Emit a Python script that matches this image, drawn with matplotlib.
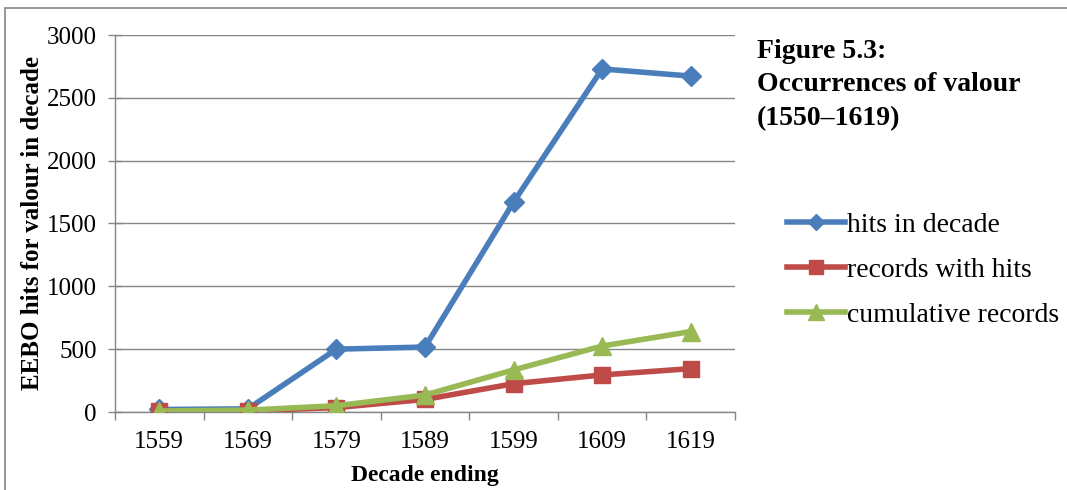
import matplotlib.pyplot as plt
from matplotlib.patches import Rectangle

# decades and series values
decades = ["1559", "1569", "1579", "1589", "1599", "1609", "1619"]
hits_in_decade = [20, 25, 500, 517, 1670, 2730, 2673]
records_with_hits = [10, 10, 35, 100, 225, 295, 345]
cumulative_records = [8, 15, 50, 135, 335, 525, 640]

plt.rcParams["font.family"] = ["Liberation Serif", "DejaVu Serif"]

fig = plt.figure(figsize=(10.67, 4.9), dpi=100)
ax = fig.add_axes([115 / 1067, 1 - 412 / 490, 620 / 1067, 377 / 490])

x = range(len(decades))
ax.plot(x, hits_in_decade, color="#4a7ebb", lw=4, marker="D", ms=10,
        label="hits in decade", zorder=3)
ax.plot(x, records_with_hits, color="#be4b48", lw=4, marker="s", ms=12,
        label="records with hits", zorder=4)
ax.plot(x, cumulative_records, color="#98b954", lw=4, marker="^", ms=13,
        label="cumulative records", zorder=5)

ax.set_xlim(-0.5, len(decades) - 0.5)
ax.set_ylim(0, 3000)
ax.set_yticks(range(0, 3001, 500))
ax.set_xticks(x)
ax.set_xticklabels(decades)
ax.set_xticks([i - 0.5 for i in range(len(decades) + 1)], minor=True)
ax.tick_params(axis="x", which="major", length=0, labelsize=18, pad=14)
ax.tick_params(axis="x", which="minor", length=6, direction="out",
               color="#868686", width=1)
ax.tick_params(axis="y", length=10, direction="inout", color="#868686",
               width=1, labelsize=18, pad=8)
ax.yaxis.grid(True, color="#868686", lw=1)
ax.set_axisbelow(True)
for side in ("top", "right"):
    ax.spines[side].set_visible(False)
for side in ("left", "bottom"):
    ax.spines[side].set_color("#868686")
    ax.spines[side].set_linewidth(1)

ax.set_ylabel("EEBO hits for valour in decade", fontsize=18,
              fontweight="bold", labelpad=2)
ax.set_xlabel("Decade ending", fontsize=17, fontweight="bold", labelpad=8)

fig.text(757 / 1067, 1 - 85 / 490, "Figure 5.3:\nOccurrences of valour\n(1550\u20131619)",
         fontsize=20, fontweight="bold", va="center", ha="left",
         linespacing=1.45)

ax.legend(loc="center left", bbox_to_anchor=(762 / 1067, 1 - 270 / 490),
          bbox_transform=fig.transFigure, frameon=False, fontsize=20,
          handlelength=2.1, handletextpad=0.05, labelspacing=0.7,
          markerscale=0.85)

# chart frame
fig.patches.append(Rectangle((5 / 1067, -0.05), 1.2, 1 - 8 / 490 + 0.05,
                             transform=fig.transFigure, fill=False,
                             edgecolor="#868686", lw=1.2))

fig.savefig("out.png", dpi=100)
